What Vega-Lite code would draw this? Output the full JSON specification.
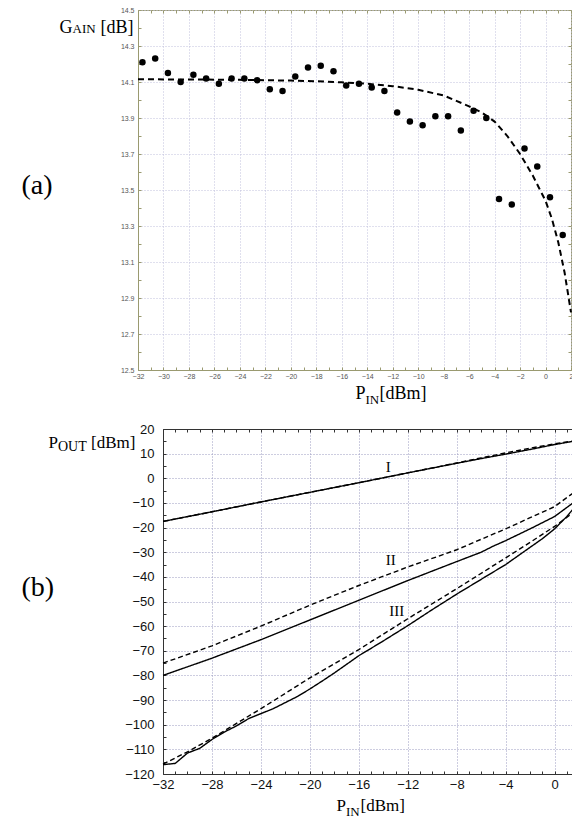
{
  "$schema": "https://vega.github.io/schema/vega-lite/v6.json",
  "background": "white",
  "padding": {"left": 20, "top": 5, "right": 0, "bottom": 0},
  "spacing": 16,
  "bounds": "full",
  "datasets": {
    "gain": [
      {"pin": -31.65, "gain": 14.21}, {"pin": -30.65, "gain": 14.23}, {"pin": -29.65, "gain": 14.15},
      {"pin": -28.65, "gain": 14.10}, {"pin": -27.65, "gain": 14.14}, {"pin": -26.65, "gain": 14.12},
      {"pin": -25.65, "gain": 14.09}, {"pin": -24.65, "gain": 14.12}, {"pin": -23.65, "gain": 14.12},
      {"pin": -22.65, "gain": 14.11}, {"pin": -21.65, "gain": 14.06}, {"pin": -20.65, "gain": 14.05},
      {"pin": -19.65, "gain": 14.13}, {"pin": -18.65, "gain": 14.18}, {"pin": -17.65, "gain": 14.19},
      {"pin": -16.65, "gain": 14.16}, {"pin": -15.65, "gain": 14.08}, {"pin": -14.65, "gain": 14.09},
      {"pin": -13.65, "gain": 14.07}, {"pin": -12.65, "gain": 14.05}, {"pin": -11.65, "gain": 13.93},
      {"pin": -10.65, "gain": 13.88}, {"pin": -9.65, "gain": 13.86}, {"pin": -8.65, "gain": 13.91},
      {"pin": -7.65, "gain": 13.91}, {"pin": -6.65, "gain": 13.83}, {"pin": -5.65, "gain": 13.94},
      {"pin": -4.65, "gain": 13.90}, {"pin": -3.65, "gain": 13.45}, {"pin": -2.65, "gain": 13.42},
      {"pin": -1.65, "gain": 13.73}, {"pin": -0.65, "gain": 13.63}, {"pin": 0.35, "gain": 13.46},
      {"pin": 1.35, "gain": 13.25}
    ],
    "fit": [
      {"pin": -32, "gain": 14.115}, {"pin": -28, "gain": 14.114}, {"pin": -24, "gain": 14.112},
      {"pin": -20, "gain": 14.108}, {"pin": -18, "gain": 14.104}, {"pin": -16, "gain": 14.098},
      {"pin": -14, "gain": 14.09}, {"pin": -12, "gain": 14.077}, {"pin": -10, "gain": 14.057},
      {"pin": -8, "gain": 14.025}, {"pin": -7, "gain": 13.995}, {"pin": -6, "gain": 13.965},
      {"pin": -5, "gain": 13.93}, {"pin": -4, "gain": 13.88}, {"pin": -3, "gain": 13.80},
      {"pin": -2, "gain": 13.70}, {"pin": -1, "gain": 13.58}, {"pin": -0.5, "gain": 13.51},
      {"pin": 0, "gain": 13.44}, {"pin": 0.5, "gain": 13.34}, {"pin": 1, "gain": 13.21},
      {"pin": 1.5, "gain": 13.04}, {"pin": 2, "gain": 12.82}
    ],
    "pout": [
      {"curve": "I-s", "style": "solid", "pin": -32, "pout": -17.5}, {"curve": "I-s", "style": "solid", "pin": -28, "pout": -13.6},
      {"curve": "I-s", "style": "solid", "pin": -24, "pout": -9.6}, {"curve": "I-s", "style": "solid", "pin": -20, "pout": -5.7},
      {"curve": "I-s", "style": "solid", "pin": -16, "pout": -1.8}, {"curve": "I-s", "style": "solid", "pin": -12, "pout": 2.2},
      {"curve": "I-s", "style": "solid", "pin": -8, "pout": 6.1}, {"curve": "I-s", "style": "solid", "pin": -6, "pout": 8.0},
      {"curve": "I-s", "style": "solid", "pin": -4, "pout": 9.8}, {"curve": "I-s", "style": "solid", "pin": -2, "pout": 11.7},
      {"curve": "I-s", "style": "solid", "pin": 0, "pout": 13.7}, {"curve": "I-s", "style": "solid", "pin": 1.5, "pout": 15.0},
      {"curve": "I-d", "style": "dashed", "pin": -32, "pout": -17.5}, {"curve": "I-d", "style": "dashed", "pin": -28, "pout": -13.6},
      {"curve": "I-d", "style": "dashed", "pin": -24, "pout": -9.6}, {"curve": "I-d", "style": "dashed", "pin": -20, "pout": -5.7},
      {"curve": "I-d", "style": "dashed", "pin": -16, "pout": -1.8}, {"curve": "I-d", "style": "dashed", "pin": -12, "pout": 2.2},
      {"curve": "I-d", "style": "dashed", "pin": -8, "pout": 6.2}, {"curve": "I-d", "style": "dashed", "pin": -6, "pout": 8.3},
      {"curve": "I-d", "style": "dashed", "pin": -4, "pout": 10.3}, {"curve": "I-d", "style": "dashed", "pin": -2, "pout": 12.2},
      {"curve": "I-d", "style": "dashed", "pin": 0, "pout": 14.0}, {"curve": "I-d", "style": "dashed", "pin": 1.5, "pout": 15.1},
      {"curve": "II-d", "style": "dashed", "pin": -32, "pout": -75}, {"curve": "II-d", "style": "dashed", "pin": -28, "pout": -68},
      {"curve": "II-d", "style": "dashed", "pin": -24, "pout": -60}, {"curve": "II-d", "style": "dashed", "pin": -20, "pout": -51.5},
      {"curve": "II-d", "style": "dashed", "pin": -16, "pout": -43.5}, {"curve": "II-d", "style": "dashed", "pin": -12, "pout": -36},
      {"curve": "II-d", "style": "dashed", "pin": -8, "pout": -29}, {"curve": "II-d", "style": "dashed", "pin": -4, "pout": -20.5},
      {"curve": "II-d", "style": "dashed", "pin": -2, "pout": -16}, {"curve": "II-d", "style": "dashed", "pin": 0, "pout": -11.5},
      {"curve": "II-d", "style": "dashed", "pin": 1.5, "pout": -6},
      {"curve": "II-s", "style": "solid", "pin": -32, "pout": -80}, {"curve": "II-s", "style": "solid", "pin": -28, "pout": -73},
      {"curve": "II-s", "style": "solid", "pin": -24, "pout": -65.5}, {"curve": "II-s", "style": "solid", "pin": -20, "pout": -57.5},
      {"curve": "II-s", "style": "solid", "pin": -16, "pout": -49.5}, {"curve": "II-s", "style": "solid", "pin": -12, "pout": -41.5},
      {"curve": "II-s", "style": "solid", "pin": -8, "pout": -33.8}, {"curve": "II-s", "style": "solid", "pin": -6, "pout": -30},
      {"curve": "II-s", "style": "solid", "pin": -5, "pout": -27.5}, {"curve": "II-s", "style": "solid", "pin": -4, "pout": -25.3},
      {"curve": "II-s", "style": "solid", "pin": -2, "pout": -20.5}, {"curve": "II-s", "style": "solid", "pin": 0, "pout": -15.5},
      {"curve": "II-s", "style": "solid", "pin": 1.5, "pout": -10},
      {"curve": "III-d", "style": "dashed", "pin": -32, "pout": -116}, {"curve": "III-d", "style": "dashed", "pin": -30, "pout": -111},
      {"curve": "III-d", "style": "dashed", "pin": -28, "pout": -105.5}, {"curve": "III-d", "style": "dashed", "pin": -24, "pout": -93.5},
      {"curve": "III-d", "style": "dashed", "pin": -20, "pout": -81}, {"curve": "III-d", "style": "dashed", "pin": -16, "pout": -69.5},
      {"curve": "III-d", "style": "dashed", "pin": -12, "pout": -57}, {"curve": "III-d", "style": "dashed", "pin": -8, "pout": -44.8},
      {"curve": "III-d", "style": "dashed", "pin": -4, "pout": -32.3}, {"curve": "III-d", "style": "dashed", "pin": -2, "pout": -26},
      {"curve": "III-d", "style": "dashed", "pin": 0, "pout": -19.5}, {"curve": "III-d", "style": "dashed", "pin": 1.5, "pout": -14},
      {"curve": "III-s", "style": "solid", "pin": -32, "pout": -116.2}, {"curve": "III-s", "style": "solid", "pin": -31, "pout": -115.7},
      {"curve": "III-s", "style": "solid", "pin": -30, "pout": -111.5}, {"curve": "III-s", "style": "solid", "pin": -29, "pout": -109.6},
      {"curve": "III-s", "style": "solid", "pin": -28, "pout": -106}, {"curve": "III-s", "style": "solid", "pin": -27, "pout": -103},
      {"curve": "III-s", "style": "solid", "pin": -26, "pout": -100.5}, {"curve": "III-s", "style": "solid", "pin": -25, "pout": -97.5},
      {"curve": "III-s", "style": "solid", "pin": -24, "pout": -95.5}, {"curve": "III-s", "style": "solid", "pin": -23, "pout": -93.5},
      {"curve": "III-s", "style": "solid", "pin": -22, "pout": -91}, {"curve": "III-s", "style": "solid", "pin": -21, "pout": -88.5},
      {"curve": "III-s", "style": "solid", "pin": -20, "pout": -85.5}, {"curve": "III-s", "style": "solid", "pin": -19, "pout": -82.3},
      {"curve": "III-s", "style": "solid", "pin": -18, "pout": -79}, {"curve": "III-s", "style": "solid", "pin": -16, "pout": -72},
      {"curve": "III-s", "style": "solid", "pin": -14, "pout": -66}, {"curve": "III-s", "style": "solid", "pin": -12, "pout": -59.8},
      {"curve": "III-s", "style": "solid", "pin": -10, "pout": -53.3}, {"curve": "III-s", "style": "solid", "pin": -8, "pout": -47},
      {"curve": "III-s", "style": "solid", "pin": -6, "pout": -41}, {"curve": "III-s", "style": "solid", "pin": -5, "pout": -38},
      {"curve": "III-s", "style": "solid", "pin": -4, "pout": -35}, {"curve": "III-s", "style": "solid", "pin": -3, "pout": -31.5},
      {"curve": "III-s", "style": "solid", "pin": -2, "pout": -28}, {"curve": "III-s", "style": "solid", "pin": -1, "pout": -24.5},
      {"curve": "III-s", "style": "solid", "pin": 0, "pout": -20.5}, {"curve": "III-s", "style": "solid", "pin": 1, "pout": -15.5},
      {"curve": "III-s", "style": "solid", "pin": 1.5, "pout": -12.5}
    ],
    "labels": [
      {"label": "I", "pin": -13.6, "pout": 4.7},
      {"label": "II", "pin": -13.4, "pout": -33.2},
      {"label": "III", "pin": -12.9, "pout": -53.7}
    ]
  },
  "vconcat": [
    {
      "width": 433,
      "height": 360,
      "view": {"stroke": "#9a9a70"},
      "resolve": {"axis": {"x": "independent", "y": "independent"}},
      "layer": [
        {
          "data": {"name": "gain"},
          "mark": {"type": "circle", "size": 42, "color": "black", "opacity": 1},
          "encoding": {
            "x": {"field": "pin", "type": "quantitative",
              "scale": {"domain": [-32, 2], "nice": false, "zero": false},
              "axis": {"orient": "bottom", "values": [-32,-30,-28,-26,-24,-22,-20,-18,-16,-14,-12,-10,-8,-6,-4,-2,0,2],
                "format": "d", "labelFontSize": 7, "labelColor": "#555", "labelFont": "Liberation Sans", "labelPadding": 2,
                "ticks": false, "domain": true, "domainColor": "#9a9a70",
                "grid": true, "gridColor": "#c0c0dc", "gridDash": [1, 2],
                "title": "P", "titleFontSize": 18, "titleX": 217, "titleY": 28}},
            "y": {"field": "gain", "type": "quantitative",
              "scale": {"domain": [12.5, 14.5], "nice": false, "zero": false},
              "axis": {"orient": "left", "values": [12.5,12.7,12.9,13.1,13.3,13.5,13.7,13.9,14.1,14.3,14.5],
                "format": ".1f", "labelFontSize": 7, "labelColor": "#555", "labelFont": "Liberation Sans", "labelPadding": 4,
                "ticks": false, "domain": true, "domainColor": "#9a9a70",
                "grid": true, "gridColor": "#c0c0dc", "gridDash": [1, 2],
                "title": "G", "titleFontSize": 18, "titleX": -79, "titleY": 22}}
          }
        },
        {
          "data": {"name": "fit"},
          "mark": {"type": "line", "color": "black", "strokeWidth": 2, "strokeDash": [6, 4]},
          "encoding": {
            "x": {"field": "pin", "type": "quantitative",
              "scale": {"domain": [-32, 2], "nice": false, "zero": false},
              "axis": {"orient": "bottom", "values": [-32,-31,-30,-29,-28,-27,-26,-25,-24,-23,-22,-21,-20,-19,-18,-17,-16,-15,-14,-13,-12,-11,-10,-9,-8,-7,-6,-5,-4,-3,-2,-1,0,1,2],
                "labels": false, "grid": false, "domain": false, "ticks": true, "tickSize": -3, "tickColor": "#9a9a70",
                "title": "IN", "titleFontSize": 13, "titleX": 227, "titleY": 33}},
            "y": {"field": "gain", "type": "quantitative",
              "scale": {"domain": [12.5, 14.5], "nice": false, "zero": false},
              "axis": {"orient": "left", "values": [12.5,12.6,12.7,12.8,12.9,13.0,13.1,13.2,13.3,13.4,13.5,13.6,13.7,13.8,13.9,14.0,14.1,14.2,14.3,14.4,14.5],
                "labels": false, "grid": false, "domain": false, "ticks": true, "tickSize": -3, "tickColor": "#9a9a70",
                "title": "AIN", "titleFontSize": 13, "titleX": -66, "titleY": 22}}
          }
        },
        {
          "data": {"name": "gain"},
          "mark": {"type": "circle", "opacity": 0},
          "encoding": {
            "x": {"field": "pin", "type": "quantitative",
              "scale": {"domain": [-32, 2], "nice": false, "zero": false},
              "axis": {"orient": "top", "values": [-32,-31,-30,-29,-28,-27,-26,-25,-24,-23,-22,-21,-20,-19,-18,-17,-16,-15,-14,-13,-12,-11,-10,-9,-8,-7,-6,-5,-4,-3,-2,-1,0,1,2],
                "labels": false, "grid": false, "domain": false, "ticks": true, "tickSize": -3, "tickColor": "#9a9a70", "title": null}},
            "y": {"field": "gain", "type": "quantitative",
              "scale": {"domain": [12.5, 14.5], "nice": false, "zero": false},
              "axis": {"orient": "left", "labels": false, "grid": false, "domain": false, "ticks": false,
                "title": "(a)", "titleFontSize": 28, "titleX": -117, "titleY": 175, "titleBaseline": "middle"}}
          }
        },
        {
          "data": {"name": "gain"},
          "mark": {"type": "circle", "opacity": 0},
          "encoding": {
            "x": {"field": "pin", "type": "quantitative",
              "scale": {"domain": [-32, 2], "nice": false, "zero": false},
              "axis": {"orient": "bottom", "labels": false, "grid": false, "domain": false, "ticks": false,
                "title": "[dBm]", "titleFontSize": 18, "titleX": 241, "titleY": 28}},
            "y": {"field": "gain", "type": "quantitative",
              "scale": {"domain": [12.5, 14.5], "nice": false, "zero": false},
              "axis": {"orient": "right", "values": [12.5,12.6,12.7,12.8,12.9,13.0,13.1,13.2,13.3,13.4,13.5,13.6,13.7,13.8,13.9,14.0,14.1,14.2,14.3,14.4,14.5],
                "labels": false, "grid": false, "domain": false, "ticks": true, "tickSize": -3, "tickColor": "#9a9a70", "title": null}}
          }
        },
        {
          "data": {"name": "gain"},
          "mark": {"type": "circle", "opacity": 0},
          "encoding": {
            "x": {"field": "pin", "type": "quantitative",
              "scale": {"domain": [-32, 2], "nice": false, "zero": false}, "axis": null},
            "y": {"field": "gain", "type": "quantitative",
              "scale": {"domain": [12.5, 14.5], "nice": false, "zero": false},
              "axis": {"orient": "left", "labels": false, "grid": false, "domain": false, "ticks": false,
                "title": "[dB]", "titleFontSize": 18, "titleX": -38, "titleY": 22}}
          }
        }
      ]
    },
    {
      "width": 435,
      "height": 345,
      "view": {"stroke": null},
      "resolve": {"axis": {"x": "independent", "y": "independent"}},
      "layer": [
        {
          "data": {"name": "pout"},
          "mark": {"type": "line", "color": "black", "strokeWidth": 1.4},
          "encoding": {
            "x": {"field": "pin", "type": "quantitative",
              "scale": {"domain": [-32, 1.5], "nice": false, "zero": false, "rangeMin": 25},
              "axis": {"orient": "bottom", "values": [-32,-28,-24,-20,-16,-12,-8,-4,0],
                "format": "d", "labelFontSize": 13, "labelColor": "#111", "labelFont": "Liberation Sans", "labelPadding": 4,
                "ticks": false, "domain": true, "domainColor": "#333",
                "grid": true, "gridColor": "#9a9ac0", "gridDash": [1, 2],
                "title": "P", "titleFontSize": 17, "titleX": 198, "titleY": 36}},
            "y": {"field": "pout", "type": "quantitative",
              "scale": {"domain": [-120, 20], "nice": false, "zero": false},
              "axis": {"orient": "left", "offset": -25, "values": [20,10,0,-10,-20,-30,-40,-50,-60,-70,-80,-90,-100,-110,-120],
                "format": "d", "labelFontSize": 13, "labelColor": "#111", "labelFont": "Liberation Sans", "labelPadding": 9,
                "ticks": false, "domain": true, "domainColor": "#333",
                "grid": true, "gridColor": "#9a9ac0", "gridDash": [1, 2],
                "title": "P", "titleFontSize": 17, "titleX": -115, "titleY": 18}},
            "detail": {"field": "curve", "type": "nominal"},
            "strokeDash": {"field": "style", "type": "nominal",
              "scale": {"domain": ["solid", "dashed"], "range": [[1, 0], [5, 3]]}, "legend": null}
          }
        },
        {
          "data": {"name": "labels"},
          "mark": {"type": "text", "font": "Liberation Serif", "fontSize": 15, "color": "black"},
          "encoding": {
            "x": {"field": "pin", "type": "quantitative",
              "scale": {"domain": [-32, 1.5], "nice": false, "zero": false, "rangeMin": 25},
              "axis": {"orient": "bottom", "values": [-32,-31,-30,-29,-28,-27,-26,-25,-24,-23,-22,-21,-20,-19,-18,-17,-16,-15,-14,-13,-12,-11,-10,-9,-8,-7,-6,-5,-4,-3,-2,-1,0,1],
                "labels": false, "grid": false, "domain": false, "ticks": true, "tickSize": -3, "tickColor": "#333",
                "title": "IN", "titleFontSize": 13, "titleX": 207.5, "titleY": 41}},
            "y": {"field": "pout", "type": "quantitative",
              "scale": {"domain": [-120, 20], "nice": false, "zero": false},
              "axis": {"orient": "left", "offset": -25, "values": [20,15,10,5,0,-5,-10,-15,-20,-25,-30,-35,-40,-45,-50,-55,-60,-65,-70,-75,-80,-85,-90,-95,-100,-105,-110,-115,-120],
                "labels": false, "grid": false, "domain": false, "ticks": true, "tickSize": -3, "tickColor": "#333",
                "title": "OUT", "titleFontSize": 14, "titleX": -105.5, "titleY": 21}},
            "text": {"field": "label", "type": "nominal"}
          }
        },
        {
          "data": {"name": "labels"},
          "mark": {"type": "circle", "opacity": 0},
          "encoding": {
            "x": {"field": "pin", "type": "quantitative",
              "scale": {"domain": [-32, 1.5], "nice": false, "zero": false, "rangeMin": 25},
              "axis": {"orient": "top", "values": [-32,-31,-30,-29,-28,-27,-26,-25,-24,-23,-22,-21,-20,-19,-18,-17,-16,-15,-14,-13,-12,-11,-10,-9,-8,-7,-6,-5,-4,-3,-2,-1,0,1],
                "labels": false, "grid": false, "domain": true, "domainColor": "#333", "ticks": true, "tickSize": -3, "tickColor": "#333", "title": null}},
            "y": {"field": "pout", "type": "quantitative",
              "scale": {"domain": [-120, 20], "nice": false, "zero": false},
              "axis": {"orient": "left", "offset": -25, "labels": false, "grid": false, "domain": false, "ticks": false,
                "title": "(b)", "titleFontSize": 28, "titleX": -142, "titleY": 158, "titleBaseline": "middle"}}
          }
        },
        {
          "data": {"name": "labels"},
          "mark": {"type": "circle", "opacity": 0},
          "encoding": {
            "x": {"field": "pin", "type": "quantitative",
              "scale": {"domain": [-32, 1.5], "nice": false, "zero": false, "rangeMin": 25},
              "axis": {"orient": "bottom", "labels": false, "grid": false, "domain": false, "ticks": false,
                "title": "[dBm]", "titleFontSize": 17, "titleX": 222, "titleY": 36}},
            "y": {"field": "pout", "type": "quantitative",
              "scale": {"domain": [-120, 20], "nice": false, "zero": false},
              "axis": {"orient": "left", "offset": -25, "labels": false, "grid": false, "domain": false, "ticks": false,
                "title": "[dBm]", "titleFontSize": 17, "titleX": -72.5, "titleY": 18}}
          }
        }
      ]
    }
  ],
  "config": {
    "view": {"stroke": "#888"},
    "axis": {
      "titleFont": "Liberation Serif",
      "titleFontWeight": "normal",
      "titleColor": "black",
      "titleAngle": 0,
      "titleAlign": "left",
      "titleBaseline": "alphabetic",
      "labelFlush": false,
      "labelOverlap": false
    }
  }
}
